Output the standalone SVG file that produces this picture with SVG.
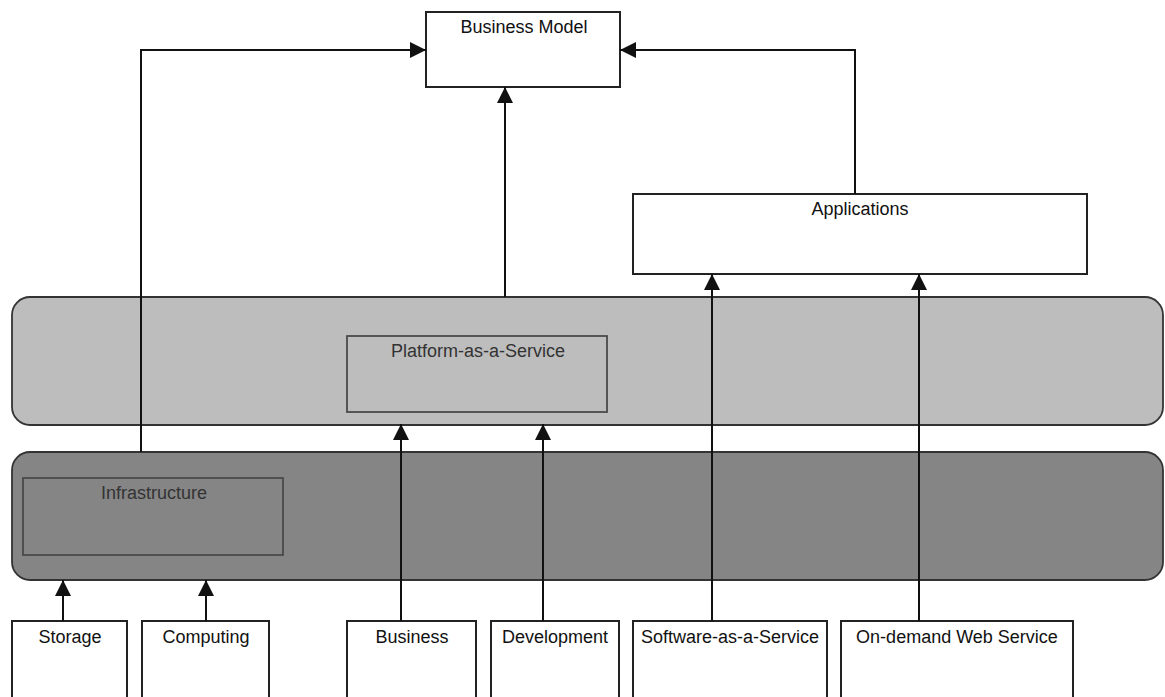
<svg xmlns="http://www.w3.org/2000/svg" width="1165" height="697" viewBox="0 0 1165 697">
<defs>
<marker id="ah" markerUnits="userSpaceOnUse" markerWidth="16" markerHeight="16" refX="16" refY="8" orient="auto">
<path d="M0,0 L16,8 L0,16 z" fill="#111"/>
</marker>
<style>
text{font-family:"Liberation Sans",Arial,sans-serif;font-size:18px;fill:#111;text-anchor:middle}
.box{fill:#fff;stroke:#222;stroke-width:2}
.band{stroke:#333;stroke-width:1.8}
.inner{stroke:#4a4a4a;stroke-width:1.8}
.conn{fill:none;stroke:#111;stroke-width:2;marker-end:url(#ah)}
.dim{fill:#333}
</style>
</defs>
<rect width="1165" height="697" fill="#fff"/>
<g id="platform-band">
<rect class="band" x="12" y="297" width="1151" height="128" rx="18" fill="#bdbdbd"/>
</g>
<g id="paas">
<rect class="inner" x="347" y="336" width="260" height="76" fill="#bdbdbd"/>
<text class="dim" x="478" y="357">Platform-as-a-Service</text>
</g>
<g id="infra-band">
<rect class="band" x="12" y="452" width="1151" height="128" rx="18" fill="#858585"/>
</g>
<g id="infrastructure">
<rect class="inner" x="23" y="478" width="260" height="77" fill="#858585"/>
<text class="dim" x="154" y="499">Infrastructure</text>
</g>
<g id="business-model">
<rect class="box" x="426" y="12" width="194" height="75"/>
<text x="524" y="33">Business Model</text>
</g>
<g id="applications">
<rect class="box" x="633" y="194" width="454" height="80"/>
<text x="860" y="215">Applications</text>
</g>
<g id="storage">
<rect class="box" x="12" y="621" width="115" height="80"/>
<text x="70" y="643">Storage</text>
</g>
<g id="computing">
<rect class="box" x="142" y="621" width="127" height="80"/>
<text x="206" y="643">Computing</text>
</g>
<g id="business">
<rect class="box" x="347" y="621" width="129" height="80"/>
<text x="412" y="643">Business</text>
</g>
<g id="development">
<rect class="box" x="491" y="621" width="128" height="80"/>
<text x="555" y="643">Development</text>
</g>
<g id="saas">
<rect class="box" x="633" y="621" width="194" height="80"/>
<text x="730" y="643">Software-as-a-Service</text>
</g>
<g id="on-demand">
<rect class="box" x="841" y="621" width="232" height="80"/>
<text x="957" y="643">On-demand Web Service</text>
</g>
<g id="connectors">
<path class="conn" d="M141,452 V50 H426"/>
<path class="conn" d="M505,297 V87"/>
<path class="conn" d="M855,194 V50 H620"/>
<path class="conn" d="M63,621 V580"/>
<path class="conn" d="M206,621 V580"/>
<path class="conn" d="M401,621 V424"/>
<path class="conn" d="M543,621 V424"/>
<path class="conn" d="M712,621 V274"/>
<path class="conn" d="M919,621 V274"/>
</g>
</svg>
